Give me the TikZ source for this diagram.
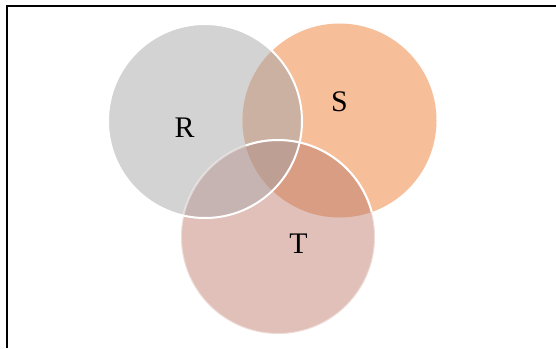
\documentclass[tikz,border=0pt]{standalone}
\usepackage{fontspec}
\setmainfont{Liberation Serif}
\begin{document}
\begin{tikzpicture}[x=1bp,y=-1bp,
  setlabel/.style={font=\fontsize{30}{30}\selectfont, text=black, inner sep=0pt},
  rim/.style={draw=white, line width=2bp}]
\definecolor{rfill}{RGB}{211,211,211}
\definecolor{sfill}{RGB}{246,191,153}
\definecolor{tfill}{RGB}{224,192,184}
\definecolor{rsfill}{RGB}{203,177,161}
\definecolor{stfill}{RGB}{217,157,132}
\definecolor{rtfill}{RGB}{198,180,178}
\definecolor{rstfill}{RGB}{189,159,148}
\useasboundingbox (0,0) rectangle (556,348);
\fill[white] (0,0) rectangle (556,348);

% centres of the three sets
\coordinate (cr) at (205,121);
\coordinate (cs) at (339.5,120.5);
\coordinate (ct) at (278,237);
\def\rad{97bp}

% single regions
\fill[rfill] (cr) circle[radius=\rad];
\fill[sfill] (cs) circle[radius=\rad];
\fill[tfill] (ct) circle[radius=\rad];
% pairwise overlaps
\begin{scope}
  \clip (cr) circle[radius=\rad];
  \fill[rsfill] (cs) circle[radius=\rad];
  \fill[rtfill] (ct) circle[radius=\rad];
\end{scope}
\begin{scope}
  \clip (cs) circle[radius=\rad];
  \fill[stfill] (ct) circle[radius=\rad];
\end{scope}
% triple overlap
\begin{scope}
  \clip (cr) circle[radius=\rad];
  \clip (cs) circle[radius=\rad];
  \fill[rstfill] (ct) circle[radius=\rad];
\end{scope}

% white rims
\draw[rim, draw opacity=0.45] (ct) circle[radius=\rad];
\begin{scope}
  \clip (cs) circle[radius=\rad];
  \draw[rim] (ct) circle[radius=\rad];
\end{scope}
\draw[rim] (cr) circle[radius=\rad];

% labels
\node[setlabel] (lr) at (184.5,128) {R};
\node[setlabel] (ls) at (339.5,101.5) {S};
\node[setlabel] (lt) at (298.5,243.5) {T};

% frame
\coordinate (fb) at (6.7,348);
\coordinate (fc) at (6.7,5.8);
\coordinate (fr) at (556,5.8);
\draw[line width=1.6bp, black] (fb) -- (fc) -- (fr);
\end{tikzpicture}
\end{document}
